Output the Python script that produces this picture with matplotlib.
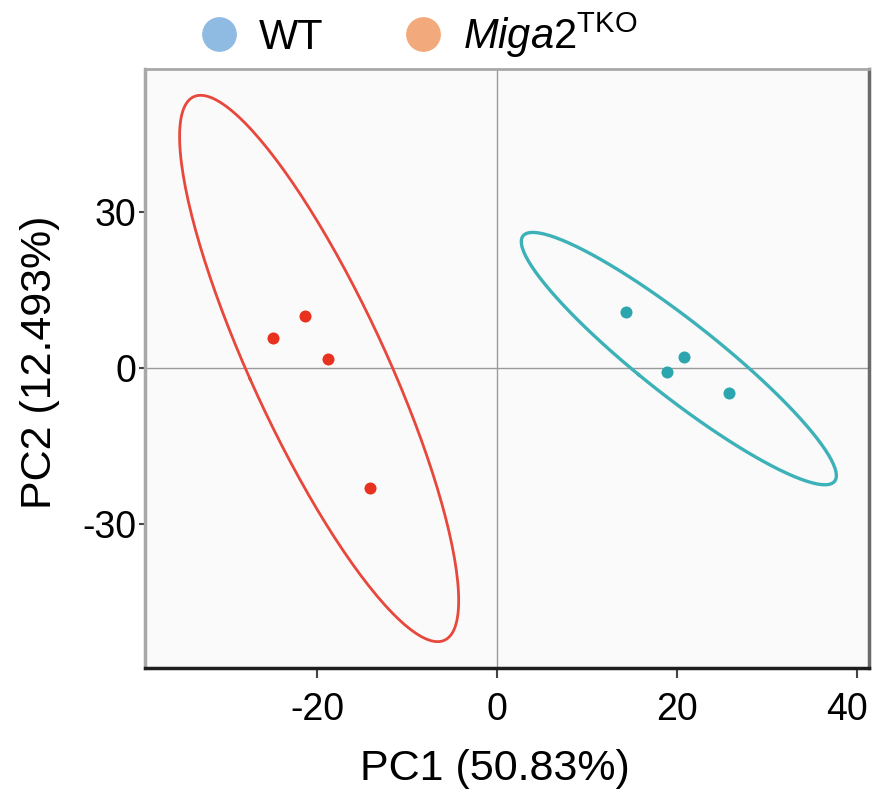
import numpy as np
import matplotlib
matplotlib.use("Agg")
import matplotlib.pyplot as plt
import matplotlib.transforms as mtransforms
from matplotlib.lines import Line2D

plt.rcParams['font.family'] = ['Liberation Sans', 'DejaVu Sans']
plt.rcParams['axes.unicode_minus'] = False
plt.rcParams['mathtext.fontset'] = 'custom'
plt.rcParams['mathtext.rm'] = 'Liberation Sans'
plt.rcParams['mathtext.it'] = 'Liberation Sans:italic'

# PCA scores
wt_pc1 = [14.3, 18.9, 20.8, 25.7]
wt_pc2 = [10.8, -0.8, 2.1, -4.8]
ko_pc1 = [-24.9, -21.3, -18.8, -14.1]
ko_pc2 = [5.8, 10.0, 1.7, -23.1]

x_ticks = [-20, 0, 20, 40]
y_ticks = [-30, 0, 30]
x_label = "PC1 (50.83%)"
y_label = "PC2 (12.493%)"
legend_labels = ["WT", r"$\it{Miga2}$$^{\rm TKO}$"]

wt_point = "#2ba6ae"
wt_line = "#3cb1b8"
ko_point = "#e8321f"
ko_line = "#e8473b"
wt_legend = "#8fbbe3"
ko_legend = "#f2a97c"


def cov_trob(x, nu=5, maxit=25, tol=0.01):
    # multivariate t location/scatter, same steps as MASS::cov.trob
    n, p = x.shape
    loc = x.mean(axis=0)
    w = np.ones(n)
    for _ in range(maxit):
        w0 = w
        X = x - loc
        s = np.sqrt(w / w.sum())[:, None] * X
        _, d, vt = np.linalg.svd(s, full_matrices=False)
        wX = X @ vt.T / d
        Q = (wX ** 2).sum(axis=1)
        w = (nu + p) / (nu + Q)
        loc = (w[:, None] * x).sum(axis=0) / w.sum()
        if np.all(np.abs(w - w0) < tol):
            break
    cov = (np.sqrt(w)[:, None] * X).T @ (np.sqrt(w)[:, None] * X) / n
    return loc, cov


def group_ellipse(x, y, level=0.95, n=200):
    data = np.column_stack([x, y])
    loc, cov = cov_trob(data)
    dfd = len(x) - 1
    # F(2, dfd) quantile in closed form
    fq = dfd / 2 * ((1 - level) ** (-2 / dfd) - 1)
    radius = np.sqrt(2 * fq)
    vals, vecs = np.linalg.eigh(cov)
    t = np.linspace(0, 2 * np.pi, n)
    circ = np.vstack([np.cos(t), np.sin(t)])
    pts = vecs @ (np.sqrt(vals)[:, None] * circ) * radius
    return pts[0] + loc[0], pts[1] + loc[1]


fig = plt.figure(figsize=(8.76, 7.95), dpi=100)
ax = fig.add_axes([0.1655, 0.1597, 0.8265, 0.7535])
ax.set_facecolor("#fafafa")

ax.axhline(0, color="#9a9a9a", lw=1.0, zorder=1)
ax.axvline(0, color="#9a9a9a", lw=1.0, zorder=1)

ex, ey = group_ellipse(ko_pc1, ko_pc2)
ax.plot(ex, ey, color=ko_line, lw=2, zorder=2)
ex, ey = group_ellipse(wt_pc1, wt_pc2)
ax.plot(ex, ey, color=wt_line, lw=2.4, zorder=2)

ax.scatter(ko_pc1, ko_pc2, s=75, color=ko_point, zorder=3, linewidths=0)
ax.scatter(wt_pc1, wt_pc2, s=75, color=wt_point, zorder=3, linewidths=0)

ax.set_xlim(-39.1, 41.3)
ax.set_ylim(-57.7, 57.5)
ax.set_xticks(x_ticks)
ax.set_yticks(y_ticks)
ax.tick_params(labelsize=27, length=4, width=1.5, color="#444444", pad=2)
ax.tick_params(axis="x", length=7, pad=10)
ax.set_xlabel(x_label, fontsize=31)
ax.xaxis.set_label_coords(0.483, -0.135)
ax.set_ylabel(y_label, fontsize=31)
ax.yaxis.set_label_coords(-0.118, 0.51)

# the last x label sits a little left of its tick, as in the source
fig.canvas.draw()
last = ax.get_xticklabels()[-1]
last.set_transform(last.get_transform() + mtransforms.ScaledTranslation(-10 / 100, 0, fig.dpi_scale_trans))

ax.spines["top"].set_color("#a8a8a8")
ax.spines["top"].set_linewidth(2)
ax.spines["left"].set_color("#a8a8a8")
ax.spines["left"].set_linewidth(2.5)
ax.spines["right"].set_color("#6a6a6a")
ax.spines["right"].set_linewidth(2.5)
ax.spines["bottom"].set_color("#1e1e1e")
ax.spines["bottom"].set_linewidth(2.5)

handles = [
    Line2D([], [], ls="", marker="o", ms=24, color=wt_legend),
    Line2D([], [], ls="", marker="o", ms=24, color=ko_legend),
]
fig.legend(handles, legend_labels, loc="upper center", bbox_to_anchor=(0.477, 1.034),
           ncol=2, frameon=False, fontsize=30, handlelength=1.0,
           handletextpad=0.45, columnspacing=1.9)

fig.savefig("out.png", dpi=100)
